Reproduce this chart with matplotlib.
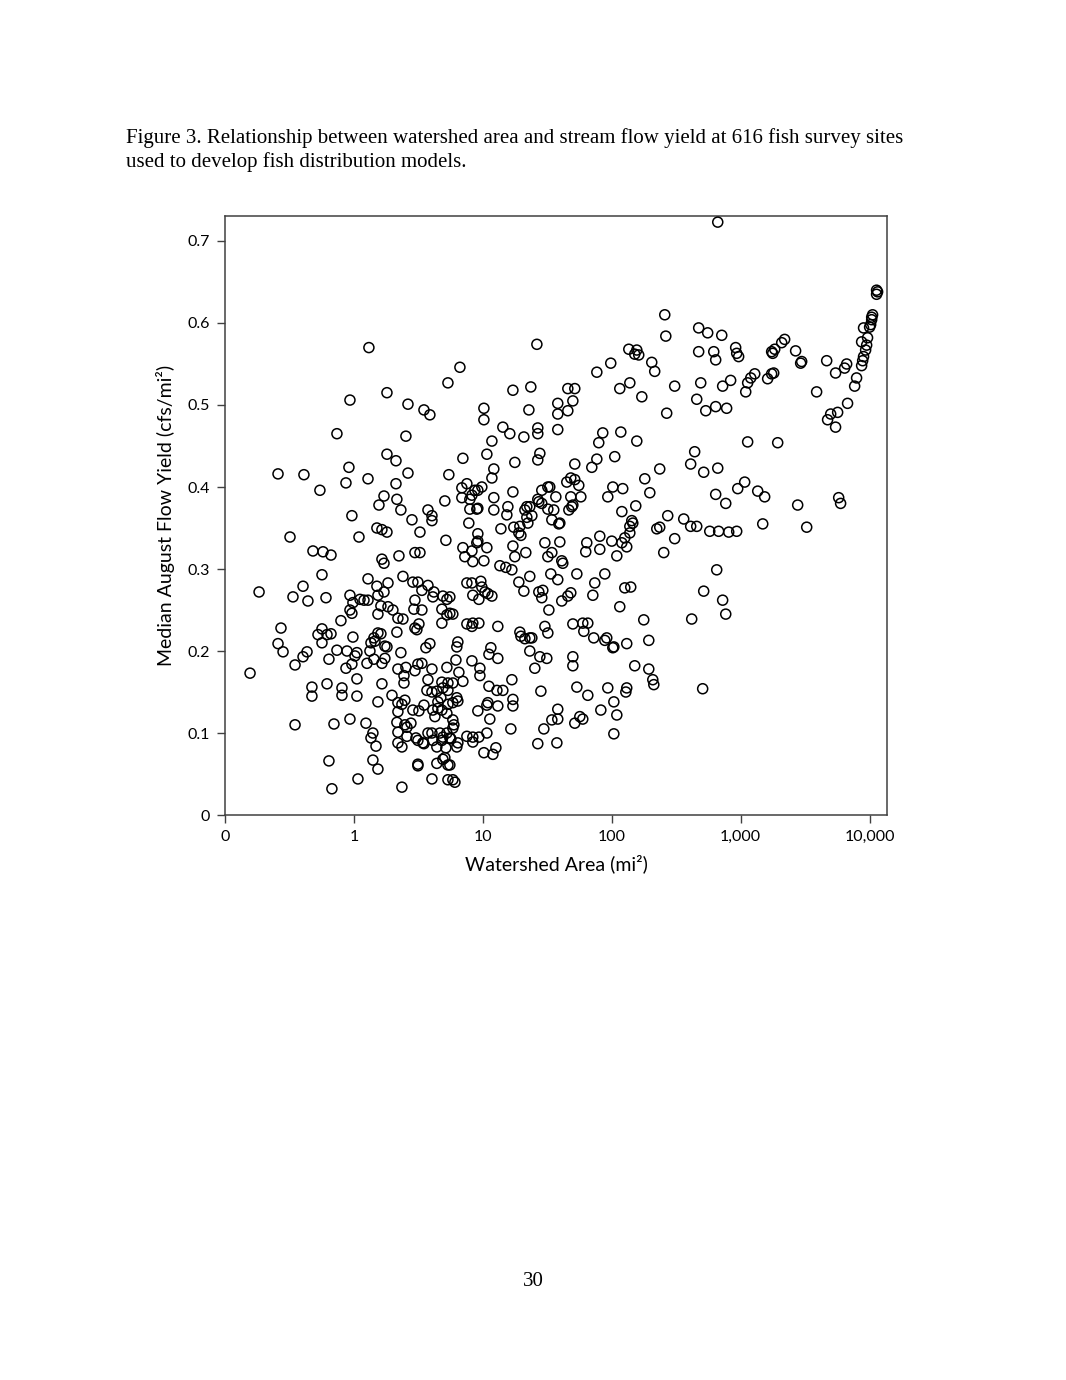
import numpy as np
import matplotlib
matplotlib.use("Agg")
import matplotlib.pyplot as plt
from matplotlib.ticker import FixedLocator, FixedFormatter, NullLocator

# log10 of watershed area (mi^2) and median August flow yield (cfs/mi^2)
log10_area = [
    0.116, 0.729, -0.031, 0.256, 0.419, 0.543, 0.589, 2.411, 2.419, 1.419,
    0.822, 2.132, 2.194, 2.178, 2.209, 2.310, 2.333, 1.992, 1.884, 2.062,
    2.140, 2.233, 1.233, 1.372, 1.659, 1.713, 1.581, 1.698, 1.659, 1.581,
    1.357, 1.008, 2.426, 2.822, 4.054, 4.062, 4.054, 4.023, 4.016, 4.016,
    2.674, 2.744, 2.853, 2.674, 2.791, 2.806, 2.961, 2.969, 2.984, 3.240,
    3.248, 3.264, 3.318, 3.341, 3.426, 3.465, 3.473, 3.667, 3.736, 3.806,
    3.822, 3.953, 4.000, 3.984, 3.938, 3.977, 3.969, 3.953, 3.946, 3.938,
    3.899, 3.884, 4.008, 2.488, 2.690, 2.860, 2.922, 3.039, 3.054, 3.078,
    3.109, 3.209, 3.240, 3.256, 3.589, 2.659, 2.729, 2.806, 2.891, 3.829,
    3.752, 3.698,
    -0.132, 0.403, 0.256, 0.326, -0.039, 0.419, -0.589, -0.388, -0.062, 0.109,
    0.326, -0.264, 0.233, 0.194, 0.333, 0.364, 0.574, 0.605, 0.605, 0.450,
    0.705, -0.016, 0.178, 0.217, 0.256, 0.512, -0.496, 0.039, 0.713, -0.318,
    -0.240, -0.178, 0.217, 0.233, 0.349, 0.473, 0.512, -0.248, 0.380, 0.109,
    0.178, 0.264, 0.233, 0.186, 0.457, 0.496, 0.574, 0.527, 0.620, 0.612,
    0.690, 0.721, 0.744, -0.395, -0.736, -0.473, -0.357, -0.217, -0.031, -0.008,
    0.047, 0.078, 0.109, -0.031, -0.016, 0.209, 0.264, 0.302, 0.473, 0.465,
    0.527, 0.186, 0.682,
    1.008, 1.155, 1.209, 1.318, 1.426, 1.426, 1.581, 1.930, 2.070, 2.194,
    1.899, 1.070, 1.031, 0.845, 1.248, 1.442, 1.426, 1.713, 1.884, 1.845,
    2.023, 2.372, 0.736, 1.085, 1.070, 2.256, 1.651, 1.682, 1.713, 1.744,
    1.519, 1.504, 1.457, 1.233, 0.837, 0.876, 0.992, 0.961, 0.915, 0.899,
    0.837, 1.085, 1.566, 1.682, 1.760, 2.008, 2.085, 1.969, 2.295, 1.426,
    1.434, 1.457, 0.961, 0.953, 0.899, 1.194, 1.085, 1.186, 1.341, 1.326,
    1.364, 1.504, 1.550, 1.690, 1.698, 1.667, 2.186, 2.078, 1.341, 1.380,
    1.349, 2.434, 0.891, 1.140, 1.240, 1.287, 1.279, 1.295, 1.535, 1.597,
    1.589, 2.155, 2.163, 2.140, 2.349, 2.372, 2.140, 2.101, 2.078, 2.116,
    0.961, 0.961, 0.953, 1.907, 1.806, 1.798, 2.000, 1.481, 1.597, 0.845,
    0.860, 0.915, 1.031, 1.233, 1.248, 1.333, 1.535, 1.504, 1.907, 2.039,
    2.403, 0.922, 1.008, 1.612, 1.620, 1.132, 1.178, 1.225, 1.364, 1.527,
    1.581, 1.729, 1.946, 1.868, 1.279, 0.876, 0.915, 0.984, 0.992, 1.016,
    1.039, 1.070, 0.969, 0.922, 1.318, 1.434, 1.465, 1.457, 1.612, 1.659,
    1.682, 1.512, 1.853, 2.101, 2.147, 2.062, 0.744, 0.767, 0.938,
    3.674, 3.736, 3.054, 3.287, 2.643, 2.612, 2.713, 2.822, 3.031, 2.977,
    3.132, 3.186, 2.806, 2.884, 3.442, 3.760, 3.775, 2.558, 2.612, 2.659,
    2.760, 2.829, 2.907, 2.969, 3.171, 3.512, 2.488, 2.814, 2.713, 2.860,
    2.884, 2.620, 2.705,
    0.341, 0.380, 0.473, 0.488, 0.504, 0.682, 0.721, -0.101, -0.566, -0.248,
    -0.209, -0.178, -0.279, -0.248, -0.589, -0.550, -0.008, 0.186, 0.209, 0.155,
    0.132, 0.163, 0.333, 0.240, 0.256, -0.364, -0.395, -0.457, -0.132, -0.054,
    0.023, 0.008, 0.124, -0.194, 0.240, 0.217, 0.155, 0.101, -0.016, -0.062,
    0.364, 0.558, 0.589, 0.496, 0.527, 0.473, 0.341, 0.403, 0.388, 0.388,
    0.605, 0.721, -0.806, 0.023, -0.209, -0.326, -0.326, -0.093, -0.093, 0.023,
    0.217, 0.295, 0.186, 0.574, 0.566, 0.605, 0.643, 0.682, 0.690, 0.729,
    0.729, 0.341, 0.372, 0.395, 0.341, 0.457, 0.504, 0.543, 0.612, 0.628,
    0.651, 0.682, 0.674, 0.651, 0.729, 0.721, -0.457, -0.155, -0.031, 0.093,
    0.147, 0.132, 0.171, 0.333, 0.411, 0.395, 0.442, 0.341, 0.411, 0.341,
    0.372, 0.481, 0.496, 0.535, 0.543, 0.574, 0.605, 0.667, 0.721, 0.612,
    0.682, 0.690, 0.643, 0.713, -0.194, 0.147, 0.186, 0.496, 0.496, 0.643,
    0.690, 0.705, 0.729, 0.031, 0.605, -0.171, 0.372, 0.729,
    0.876, 0.915, 0.922, 0.969, 1.116, 1.287, 1.295, 1.326, 1.364, 1.380,
    1.481, 1.504, 1.698, 1.775, 1.814, 1.783, 1.860, 1.946, 1.961, 2.008,
    2.016, 2.116, 2.248, 2.287, 0.806, 0.798, 1.062, 1.047, 1.116, 1.364,
    1.442, 1.496, 1.403, 1.698, 1.698, 2.178, 2.287, 2.318, 2.326, 0.791,
    0.915, 0.977, 0.977, 0.814, 0.845, 0.767, 1.225, 1.047, 1.109, 1.155,
    1.450, 1.729, 1.814, 1.969, 2.116, 2.109, 0.798, 0.806, 0.767, 1.233,
    1.233, 1.031, 1.039, 1.116, 0.961, 1.054, 1.581, 1.535, 1.581, 1.915,
    2.016, 2.039, 1.713, 1.752, 1.775, 0.767, 0.775, 0.767, 0.752, 0.806,
    0.798, 0.876, 0.922, 0.922, 0.969, 1.031, 1.217, 1.473, 2.016, 1.426,
    1.574, 1.008, 1.078, 1.101, 0.744, 0.767, 0.783, 0.744,
]

flow_yield = [
    0.570, 0.527, 0.506, 0.515, 0.501, 0.494, 0.488, 0.610, 0.584, 0.574,
    0.546, 0.568, 0.567, 0.562, 0.561, 0.552, 0.541, 0.551, 0.540, 0.520,
    0.527, 0.510, 0.518, 0.522, 0.520, 0.520, 0.502, 0.505, 0.493, 0.489,
    0.494, 0.496, 0.490, 0.723, 0.640, 0.638, 0.635, 0.610, 0.607, 0.604,
    0.594, 0.588, 0.585, 0.565, 0.565, 0.555, 0.570, 0.563, 0.559, 0.565,
    0.563, 0.568, 0.576, 0.580, 0.566, 0.551, 0.553, 0.554, 0.539, 0.545,
    0.550, 0.594, 0.595, 0.582, 0.577, 0.573, 0.567, 0.559, 0.554, 0.548,
    0.533, 0.523, 0.598, 0.523, 0.527, 0.523, 0.530, 0.516, 0.527, 0.533,
    0.538, 0.532, 0.538, 0.539, 0.516, 0.507, 0.493, 0.498, 0.496, 0.502,
    0.491, 0.489,
    0.465, 0.462, 0.440, 0.432, 0.424, 0.417, 0.416, 0.415, 0.405, 0.410,
    0.404, 0.396, 0.389, 0.378, 0.385, 0.372, 0.372, 0.365, 0.359, 0.360,
    0.383, 0.365, 0.350, 0.348, 0.345, 0.345, 0.339, 0.339, 0.335, 0.322,
    0.321, 0.317, 0.312, 0.307, 0.316, 0.320, 0.320, 0.293, 0.291, 0.288,
    0.279, 0.283, 0.272, 0.268, 0.284, 0.284, 0.280, 0.274, 0.272, 0.266,
    0.267, 0.263, 0.266, 0.279, 0.272, 0.266, 0.261, 0.265, 0.268, 0.259,
    0.263, 0.262, 0.262, 0.250, 0.246, 0.255, 0.254, 0.250, 0.262, 0.251,
    0.250, 0.245, 0.251,
    0.482, 0.473, 0.465, 0.461, 0.472, 0.465, 0.470, 0.466, 0.467, 0.456,
    0.454, 0.456, 0.440, 0.435, 0.430, 0.441, 0.433, 0.428, 0.434, 0.424,
    0.437, 0.422, 0.415, 0.422, 0.411, 0.410, 0.406, 0.411, 0.409, 0.402,
    0.400, 0.400, 0.396, 0.394, 0.399, 0.404, 0.400, 0.396, 0.390, 0.385,
    0.387, 0.387, 0.388, 0.388, 0.388, 0.400, 0.398, 0.388, 0.393, 0.385,
    0.382, 0.380, 0.374, 0.373, 0.373, 0.376, 0.372, 0.366, 0.376, 0.372,
    0.376, 0.373, 0.372, 0.376, 0.378, 0.372, 0.377, 0.370, 0.363, 0.365,
    0.356, 0.365, 0.356, 0.349, 0.351, 0.352, 0.344, 0.341, 0.360, 0.356,
    0.355, 0.359, 0.356, 0.352, 0.349, 0.351, 0.344, 0.338, 0.332, 0.327,
    0.343, 0.334, 0.332, 0.340, 0.332, 0.321, 0.334, 0.332, 0.333, 0.326,
    0.315, 0.322, 0.326, 0.328, 0.315, 0.320, 0.320, 0.315, 0.324, 0.316,
    0.320, 0.309, 0.310, 0.310, 0.307, 0.304, 0.302, 0.299, 0.291, 0.294,
    0.287, 0.294, 0.294, 0.283, 0.284, 0.283, 0.283, 0.285, 0.278, 0.272,
    0.270, 0.267, 0.263, 0.268, 0.273, 0.272, 0.274, 0.265, 0.261, 0.267,
    0.271, 0.250, 0.268, 0.277, 0.278, 0.254, 0.246, 0.245, 0.396,
    0.482, 0.473, 0.455, 0.454, 0.443, 0.428, 0.418, 0.423, 0.406, 0.398,
    0.395, 0.388, 0.391, 0.380, 0.378, 0.387, 0.380, 0.361, 0.352, 0.352,
    0.346, 0.346, 0.345, 0.346, 0.355, 0.351, 0.337, 0.299, 0.273, 0.262,
    0.245, 0.239, 0.154,
    0.240, 0.239, 0.228, 0.226, 0.233, 0.234, 0.244, 0.237, 0.228, 0.227,
    0.220, 0.221, 0.220, 0.210, 0.209, 0.199, 0.217, 0.222, 0.221, 0.216,
    0.210, 0.212, 0.223, 0.206, 0.205, 0.199, 0.193, 0.183, 0.201, 0.200,
    0.198, 0.194, 0.200, 0.190, 0.191, 0.185, 0.190, 0.185, 0.184, 0.179,
    0.198, 0.204, 0.209, 0.184, 0.185, 0.176, 0.178, 0.180, 0.170, 0.161,
    0.178, 0.180, 0.173, 0.166, 0.160, 0.156, 0.145, 0.155, 0.146, 0.145,
    0.160, 0.146, 0.138, 0.165, 0.152, 0.150, 0.151, 0.162, 0.155, 0.161,
    0.152, 0.137, 0.135, 0.140, 0.126, 0.128, 0.127, 0.134, 0.128, 0.120,
    0.130, 0.128, 0.143, 0.138, 0.135, 0.124, 0.110, 0.111, 0.117, 0.112,
    0.100, 0.094, 0.084, 0.113, 0.107, 0.110, 0.112, 0.101, 0.096, 0.088,
    0.083, 0.094, 0.091, 0.088, 0.087, 0.100, 0.100, 0.100, 0.100, 0.091,
    0.091, 0.095, 0.083, 0.082, 0.066, 0.067, 0.056, 0.062, 0.060, 0.063,
    0.068, 0.070, 0.061, 0.044, 0.044, 0.032, 0.034, 0.043,
    0.233, 0.230, 0.234, 0.234, 0.230, 0.223, 0.218, 0.215, 0.216, 0.216,
    0.230, 0.222, 0.233, 0.234, 0.234, 0.224, 0.216, 0.213, 0.216, 0.204,
    0.205, 0.209, 0.238, 0.213, 0.211, 0.205, 0.204, 0.196, 0.191, 0.200,
    0.193, 0.191, 0.179, 0.193, 0.182, 0.182, 0.178, 0.165, 0.159, 0.189,
    0.188, 0.179, 0.170, 0.174, 0.163, 0.161, 0.165, 0.157, 0.152, 0.152,
    0.151, 0.156, 0.146, 0.155, 0.155, 0.150, 0.143, 0.139, 0.137, 0.141,
    0.133, 0.134, 0.137, 0.133, 0.127, 0.117, 0.129, 0.116, 0.117, 0.128,
    0.138, 0.122, 0.112, 0.120, 0.117, 0.116, 0.110, 0.106, 0.093, 0.088,
    0.083, 0.096, 0.095, 0.089, 0.095, 0.100, 0.105, 0.105, 0.099, 0.087,
    0.088, 0.076, 0.074, 0.082, 0.061, 0.043, 0.040, 0.094,
]

x_tick_values = [0.1, 1, 10, 100, 1000, 10000]
x_tick_labels = ["0", "1", "10", "100", "1,000", "10,000"]
y_tick_values = [0, 0.1, 0.2, 0.3, 0.4, 0.5, 0.6, 0.7]
y_tick_labels = ["0", "0.1", "0.2", "0.3", "0.4", "0.5", "0.6", "0.7"]

x_label = "Watershed Area (mi\u00b2)"
y_label = "Median August Flow Yield (cfs/mi\u00b2)"
title_line1 = ("Figure 3. Relationship between watershed area and stream flow yield "
               "at 616 fish survey sites")
title_line2 = "used to develop fish distribution models."
page_number = "30"

area = 10 ** np.array(log10_area)
yld = np.array(flow_yield)

fig = plt.figure(figsize=(10.66, 13.80), dpi=100)
fig.patch.set_facecolor("white")

ax = fig.add_axes([0.2111, 0.4094, 0.6210, 0.4341])
ax.scatter(area, yld, s=52, facecolors="none", edgecolors="black",
           linewidths=1.1, zorder=3)
ax.set_xscale("log")
ax.set_xlim(0.1, 10 ** 4.135)
ax.set_ylim(0, 0.7305)

ax.xaxis.set_major_locator(FixedLocator(x_tick_values))
ax.xaxis.set_major_formatter(FixedFormatter(x_tick_labels))
ax.xaxis.set_minor_locator(NullLocator())
ax.yaxis.set_major_locator(FixedLocator(y_tick_values))
ax.yaxis.set_major_formatter(FixedFormatter(y_tick_labels))

tick_font = "Lato"
ax.tick_params(axis="both", direction="out", length=6, width=1,
               color="#404040", labelsize=11.5, labelcolor="black", pad=5)
for lab in ax.get_xticklabels() + ax.get_yticklabels():
    lab.set_fontfamily(tick_font)

for sp in ax.spines.values():
    sp.set_color("#404040")
    sp.set_linewidth(1.1)

ax.set_xlabel(x_label, fontsize=14, fontfamily=tick_font, labelpad=7)
ax.set_ylabel(y_label, fontsize=14, fontfamily=tick_font, labelpad=9)

fig.text(126 / 1066, 1 - 138 / 1380, title_line1, fontsize=15,
         fontfamily="Liberation Serif", ha="left", va="center")
fig.text(126 / 1066, 1 - 162 / 1380, title_line2, fontsize=15,
         fontfamily="Liberation Serif", ha="left", va="center")
fig.text(533 / 1066, 1 - 1282 / 1380, page_number, fontsize=15,
         fontfamily="Liberation Serif", ha="center", va="center")

fig.savefig("out.png", dpi=100, facecolor="white")
